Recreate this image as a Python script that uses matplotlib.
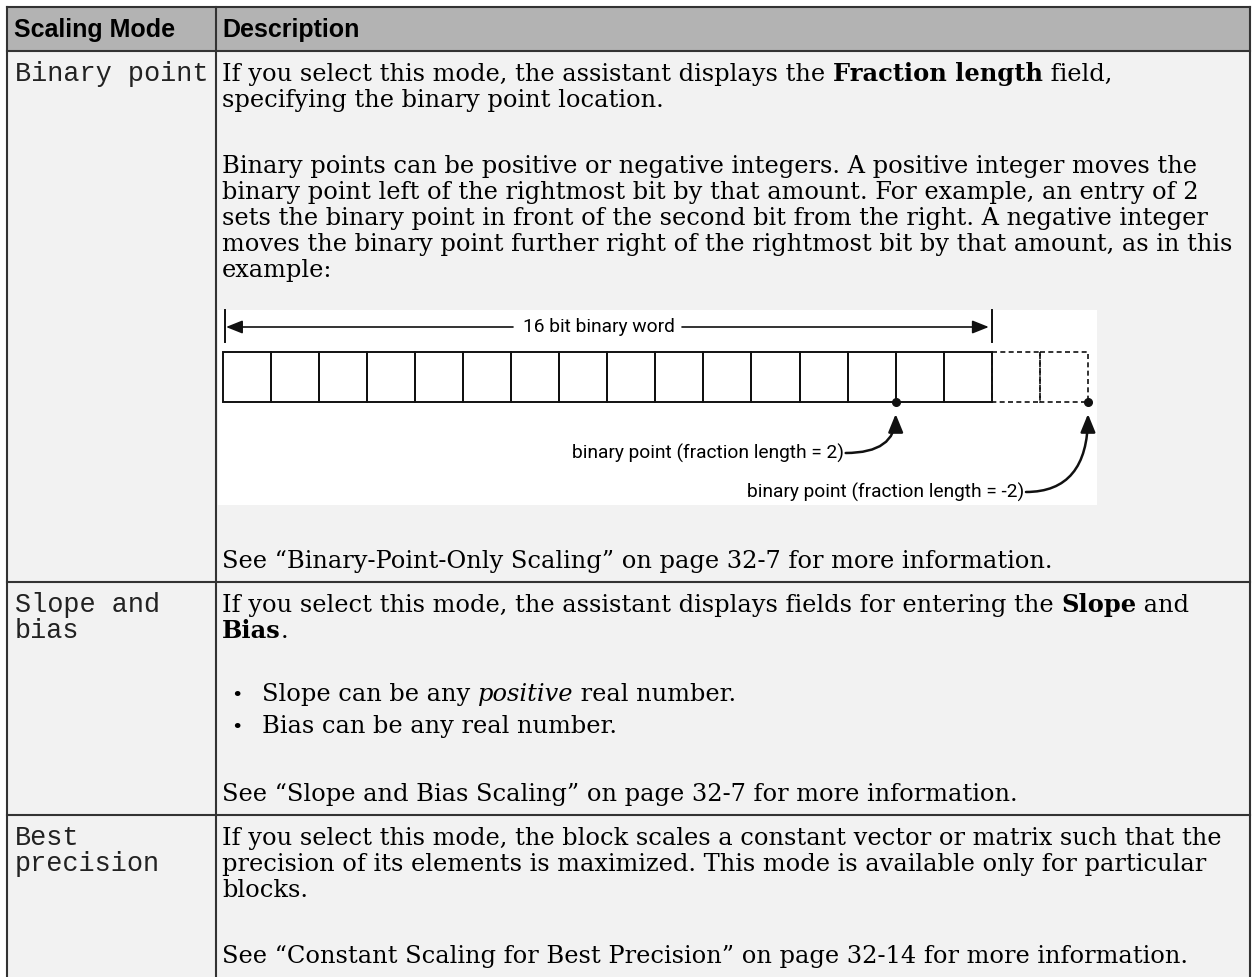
import matplotlib
matplotlib.use('Agg')
import matplotlib.pyplot as plt
from matplotlib.patches import Rectangle, FancyArrowPatch

W, H = 1252, 977

headers = ['Scaling Mode', 'Description']
modes = [['Binary point'], ['Slope and', 'bias'], ['Best', 'precision']]

# description lines: list of (text, style) runs; r = regular, b = bold, i = italic
desc_lines = [
    [('If you select this mode, the assistant displays the ', 'r'), ('Fraction length', 'b'), (' field,', 'r')],
    [('specifying the binary point location.', 'r')],
    [('Binary points can be positive or negative integers. A positive integer moves the', 'r')],
    [('binary point left of the rightmost bit by that amount. For example, an entry of 2', 'r')],
    [('sets the binary point in front of the second bit from the right. A negative integer', 'r')],
    [('moves the binary point further right of the rightmost bit by that amount, as in this', 'r')],
    [('example:', 'r')],
    [('See \u201cBinary-Point-Only Scaling\u201d on page 32-7 for more information.', 'r')],
    [('If you select this mode, the assistant displays fields for entering the ', 'r'), ('Slope', 'b'), (' and', 'r')],
    [('Bias', 'b'), ('.', 'r')],
    [('Slope can be any ', 'r'), ('positive', 'i'), (' real number.', 'r')],
    [('Bias can be any real number.', 'r')],
    [('See \u201cSlope and Bias Scaling\u201d on page 32-7 for more information.', 'r')],
    [('If you select this mode, the block scales a constant vector or matrix such that the', 'r')],
    [('precision of its elements is maximized. This mode is available only for particular', 'r')],
    [('blocks.', 'r')],
    [('See \u201cConstant Scaling for Best Precision\u201d on page 32-14 for more information.', 'r')],
]
bullet_lines = [10, 11]

word_bits = 16
extra_bits = 2
word_label = '16 bit binary word'
fraction_lengths = [2, -2]
point_labels = ['binary point (fraction length = 2)', 'binary point (fraction length = -2)']

# ---- layout (pixels) ----
row_lines = [7, 51, 582, 815]
col_x = [7, 216, 1250]
line_base = [81, 107, 173, 199, 225, 251, 277, 568,
             612, 638, 701, 733, 801,
             845, 871, 897, 963]
mode_base = [[81], [612, 638], [845, 871]]

fig = plt.figure(figsize=(W / 100, H / 100), dpi=100)
ax = fig.add_axes([0, 0, 1, 1])
ax.set_xlim(0, W)
ax.set_ylim(H, 0)
ax.axis('off')
fig.patch.set_facecolor('white')
renderer = fig.canvas.get_renderer()

SERIF = 'DejaVu Serif'
MONO = 'Liberation Mono'
SANS = 'Liberation Sans'
DIAG = 'Roboto'


def text_w(s, size, **kw):
    t = ax.text(0, 0, s, fontsize=size, **kw)
    w = t.get_window_extent(renderer).width
    t.remove()
    return w


def run_w(s, size, **kw):
    return text_w('|' + s + '|', size, **kw) - text_w('||', size, **kw)


def style_kw(st):
    return dict(family=SERIF,
                fontweight='bold' if st == 'b' else 'normal',
                fontstyle='italic' if st == 'i' else 'normal')


serif_size = 10 * 1014 / text_w(desc_lines[5][0][0], 10, family=SERIF)
mono_size = 10 * 195 / text_w('Binary point', 10, family=MONO)
head_size = 10 * 161 / text_w('Scaling Mode', 10, family=SANS, fontweight='bold')
diag_size = 10 * 152 / text_w(word_label, 10, family=DIAG)

# ---- table backgrounds and lines ----
ax.add_patch(Rectangle((col_x[0], row_lines[0]), col_x[2] - col_x[0], row_lines[1] - row_lines[0],
                       facecolor='#b3b3b3', edgecolor='none', zorder=0))
ax.add_patch(Rectangle((col_x[0], row_lines[1]), col_x[2] - col_x[0], H - row_lines[1],
                       facecolor='#f2f2f2', edgecolor='none', zorder=0))
for y in row_lines:
    ax.plot([col_x[0], col_x[2]], [y, y], color='#333333', lw=1.5, zorder=1)
for x in col_x:
    ax.plot([x, x], [row_lines[0], H], color='#333333', lw=1.5, zorder=1)

ax.text(14, 37, headers[0], fontsize=head_size, family=SANS, fontweight='bold', va='baseline')
ax.text(222, 37, headers[1], fontsize=head_size, family=SANS, fontweight='bold', va='baseline')

for lines, bases in zip(modes, mode_base):
    for s, yb in zip(lines, bases):
        ax.text(15, yb, s, fontsize=mono_size, family=MONO, va='baseline', color='#222222')

for i, (runs, yb) in enumerate(zip(desc_lines, line_base)):
    x = 222
    if i in bullet_lines:
        ax.text(231, yb, '\u2022', fontsize=serif_size * 0.8, family=SERIF, va='baseline')
        x = 262
    for s, st in runs:
        ax.text(x, yb, s, fontsize=serif_size, va='baseline', **style_kw(st))
        x += run_w(s, serif_size, **style_kw(st))

# ---- binary word diagram ----
ax.add_patch(Rectangle((218, 310), 1097 - 218, 505 - 310, facecolor='white', edgecolor='none', zorder=1))
cx0, cw = 222.7, 48.07
cy0, cy1 = 352, 402
for k in range(word_bits):
    ax.add_patch(Rectangle((cx0 + k * cw, cy0), cw, cy1 - cy0, facecolor='none',
                           edgecolor='#111111', lw=1.4, zorder=2))
for k in range(extra_bits):
    ax.add_patch(Rectangle((cx0 + (word_bits + k) * cw, cy0), cw, cy1 - cy0, facecolor='none',
                           edgecolor='#111111', lw=1.2, linestyle=(0, (3, 2)), zorder=2))

x_end = cx0 + word_bits * cw
ax.plot([225, 225], [310, 342], color='#111111', lw=1.4, zorder=3)
ax.plot([x_end, x_end], [310, 342], color='#111111', lw=1.4, zorder=3)
ax.text(599, 327, word_label, fontsize=diag_size, family=DIAG,
        ha='center', va='center', zorder=3)
for a, b in [((513, 327), (226, 327)), ((682, 327), (x_end - 3, 327))]:
    ax.add_patch(FancyArrowPatch(a, b, arrowstyle='-|>,head_length=1.0,head_width=0.4',
                                 mutation_scale=10, color='#111111', lw=1.2,
                                 shrinkA=0, shrinkB=0, zorder=3))

label_y = [453, 492]
label_gap = [52, 64]
for f, lab, ly, gap in zip(fraction_lengths, point_labels, label_y, label_gap):
    px = cx0 + (word_bits - f) * cw
    ax.plot([px], [cy1], 'o', color='#111111', ms=5.5, zorder=4)
    lx = px - gap
    ax.text(lx, ly, lab, fontsize=diag_size, family=DIAG,
            ha='right', va='center', zorder=3)
    ax.add_patch(FancyArrowPatch((lx + 2, ly), (px, cy1 + 12),
                                 connectionstyle='angle3,angleA=0,angleB=90',
                                 arrowstyle='-|>,head_length=1.1,head_width=0.45',
                                 mutation_scale=10, color='#111111', lw=1.8,
                                 shrinkA=0, shrinkB=0, zorder=3))

fig.savefig('out.png', dpi=100)
